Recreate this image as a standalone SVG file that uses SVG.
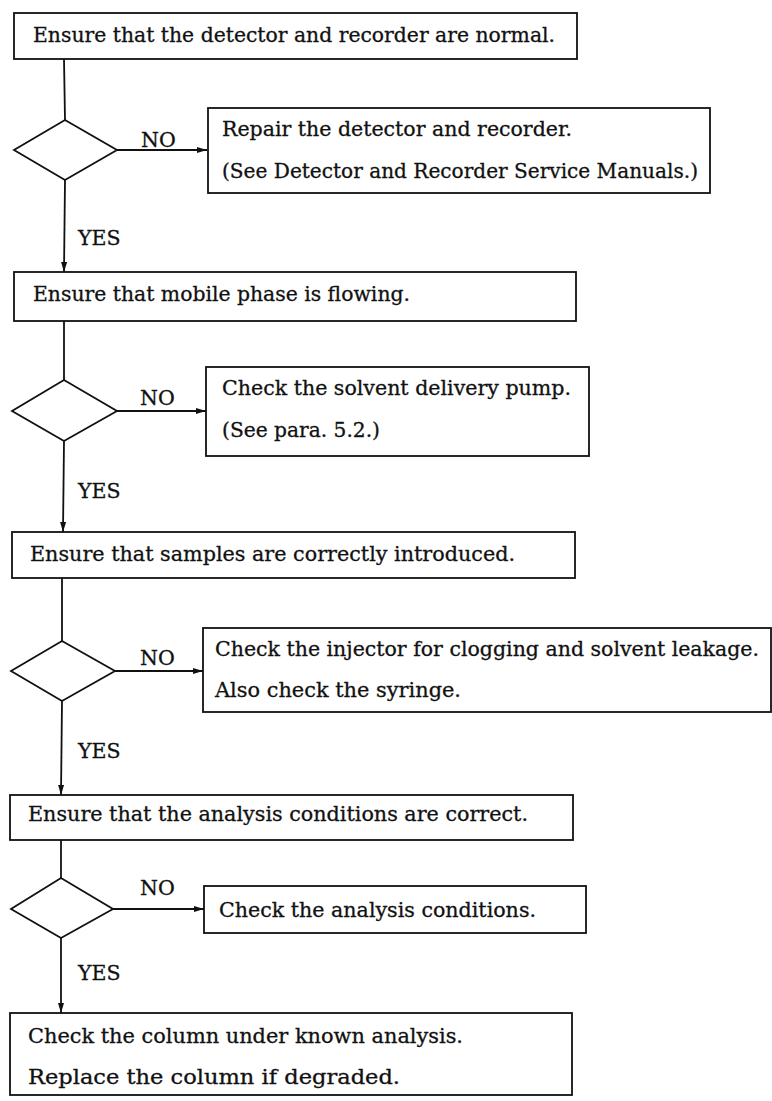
<svg xmlns="http://www.w3.org/2000/svg" width="772" height="1101" viewBox="0 0 772 1101">
<style>
.box{fill:#fff;stroke:#111;stroke-width:1.8}
.dia{fill:#fff;stroke:#111;stroke-width:1.8}
.ln{fill:none;stroke:#111;stroke-width:1.8}
.t{font-family:"DejaVu Serif","Liberation Serif",serif;font-size:20px;fill:#111;stroke:#111;stroke-width:0.3}
.l{font-family:"DejaVu Serif","Liberation Serif",serif;font-size:20.5px;fill:#111;stroke:#111;stroke-width:0.3}
</style>
<defs>
<marker id="ah" viewBox="0 0 10 6" refX="10" refY="3" markerWidth="10" markerHeight="6" markerUnits="userSpaceOnUse" orient="auto">
<path d="M0,0 L10,3 L0,6 Z" fill="#111"/>
</marker>
</defs>
<rect width="772" height="1101" fill="#fff"/>
<g id="connectors">
<line class="ln" x1="64" y1="59" x2="65" y2="120"/>
<line class="ln" x1="117" y1="150" x2="207" y2="150" marker-end="url(#ah)"/>
<line class="ln" x1="65" y1="180" x2="64" y2="272" marker-end="url(#ah)"/>
<line class="ln" x1="64" y1="321" x2="64" y2="380"/>
<line class="ln" x1="117" y1="411" x2="206" y2="411" marker-end="url(#ah)"/>
<line class="ln" x1="64" y1="441" x2="63" y2="532" marker-end="url(#ah)"/>
<line class="ln" x1="62" y1="578" x2="62" y2="641"/>
<line class="ln" x1="115" y1="671" x2="203" y2="671" marker-end="url(#ah)"/>
<line class="ln" x1="62" y1="701" x2="61" y2="795" marker-end="url(#ah)"/>
<line class="ln" x1="61" y1="840" x2="61" y2="878"/>
<line class="ln" x1="113" y1="909" x2="204" y2="909" marker-end="url(#ah)"/>
<line class="ln" x1="61" y1="938" x2="61" y2="1013" marker-end="url(#ah)"/>
<text class="l" x="141" y="147">NO</text>
<text class="l" x="78" y="245">YES</text>
<text class="l" x="140" y="405">NO</text>
<text class="l" x="78" y="498">YES</text>
<text class="l" x="140" y="665">NO</text>
<text class="l" x="78" y="758">YES</text>
<text class="l" x="140" y="895">NO</text>
<text class="l" x="78" y="980">YES</text>
</g>
<g id="n1">
<rect class="box" x="14" y="13" width="563" height="46"/>
<text class="t" x="33" y="42" textLength="522" lengthAdjust="spacingAndGlyphs">Ensure that the detector and recorder are normal.</text>
</g>
<g id="d1"><polygon class="dia" points="65,120 117,150 65,180 14,150"/></g>
<g id="n2">
<rect class="box" x="208" y="108" width="502" height="85"/>
<text class="t" x="222" y="136" textLength="350" lengthAdjust="spacingAndGlyphs">Repair the detector and recorder.</text>
<text class="t" x="222" y="178" textLength="476" lengthAdjust="spacingAndGlyphs">(See Detector and Recorder Service Manuals.)</text>
</g>
<g id="n3">
<rect class="box" x="14" y="272" width="562" height="49"/>
<text class="t" x="33" y="301" textLength="377" lengthAdjust="spacingAndGlyphs">Ensure that mobile phase is flowing.</text>
</g>
<g id="d2"><polygon class="dia" points="64,380 117,411 64,441 12,411"/></g>
<g id="n4">
<rect class="box" x="206" y="367" width="383" height="89"/>
<text class="t" x="222" y="395" textLength="349" lengthAdjust="spacingAndGlyphs">Check the solvent delivery pump.</text>
<text class="t" x="222" y="437" textLength="158" lengthAdjust="spacingAndGlyphs">(See para. 5.2.)</text>
</g>
<g id="n5">
<rect class="box" x="12" y="532" width="563" height="46"/>
<text class="t" x="30" y="561" textLength="485" lengthAdjust="spacingAndGlyphs">Ensure that samples are correctly introduced.</text>
</g>
<g id="d3"><polygon class="dia" points="62,641 115,671 62,701 11,671"/></g>
<g id="n6">
<rect class="box" x="203" y="628" width="568" height="84"/>
<text class="t" x="215" y="656" textLength="544" lengthAdjust="spacingAndGlyphs">Check the injector for clogging and solvent leakage.</text>
<text class="t" x="215" y="697" textLength="246" lengthAdjust="spacingAndGlyphs">Also check the syringe.</text>
</g>
<g id="n7">
<rect class="box" x="10" y="795" width="563" height="45"/>
<text class="t" x="28" y="821" textLength="500" lengthAdjust="spacingAndGlyphs">Ensure that the analysis conditions are correct.</text>
</g>
<g id="d4"><polygon class="dia" points="61,878 113,909 61,938 11,909"/></g>
<g id="n8">
<rect class="box" x="204" y="886" width="382" height="47"/>
<text class="t" x="219" y="917" textLength="317" lengthAdjust="spacingAndGlyphs">Check the analysis conditions.</text>
</g>
<g id="n9">
<rect class="box" x="10" y="1013" width="562" height="82"/>
<text class="t" x="28" y="1043" textLength="435" lengthAdjust="spacingAndGlyphs">Check the column under known analysis.</text>
<text class="t" x="28" y="1084" textLength="372" lengthAdjust="spacingAndGlyphs">Replace the column if degraded.</text>
</g>
</svg>
